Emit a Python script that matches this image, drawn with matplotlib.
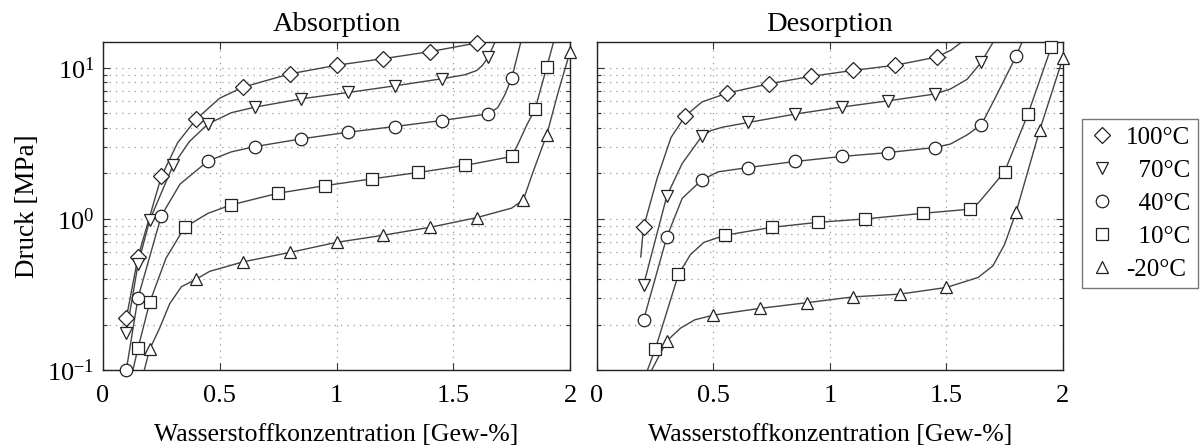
import numpy as np
import matplotlib
matplotlib.use("Agg")
import matplotlib.pyplot as plt
from matplotlib.ticker import LogLocator, NullFormatter

#----------------------------------------------------------------
# data (x = Gew-%, p = MPa)
#----------------------------------------------------------------
temps = ["100°C", "70°C", "40°C", "10°C", "-20°C"]
legend_labels = ["100°C", "  70°C", "  40°C", "  10°C", "-20°C"]
markers = ["D", "v", "o", "s", "^"]

# Absorption - measured points
abs_x_100 = [0.1, 0.15, 0.25, 0.4, 0.6, 0.8, 1.0, 1.2, 1.4, 1.6]
abs_p_100 = [0.22, 0.56, 1.91, 4.59, 7.45, 9.12, 10.4, 11.5, 12.8, 14.6]
abs_x_70 = [0.1, 0.15, 0.2, 0.3, 0.45, 0.65, 0.85, 1.05, 1.25, 1.45, 1.65]
abs_p_70 = [0.175, 0.50, 0.98, 2.26, 4.26, 5.49, 6.24, 6.87, 7.60, 8.46, 11.8]
abs_x_40 = [0.1, 0.15, 0.25, 0.45, 0.65, 0.85, 1.05, 1.25, 1.45, 1.65, 1.75]
abs_p_40 = [0.10, 0.30, 1.05, 2.42, 3.01, 3.39, 3.75, 4.09, 4.48, 4.96, 8.55]
abs_x_10 = [0.15, 0.2, 0.35, 0.55, 0.75, 0.95, 1.15, 1.35, 1.55, 1.75, 1.85, 1.9]
abs_p_10 = [0.139, 0.28, 0.88, 1.24, 1.48, 1.66, 1.84, 2.03, 2.26, 2.59, 5.33, 10.1]
abs_x_m20 = [0.2, 0.4, 0.6, 0.8, 1.0, 1.2, 1.4, 1.6, 1.8, 1.9, 2.0]
abs_p_m20 = [0.137, 0.40, 0.52, 0.60, 0.70, 0.78, 0.88, 1.02, 1.34, 3.6, 12.8]

# Absorption - fitted curves
abs_cx_100 = [0.1, 0.15, 0.25, 0.32, 0.4, 0.5, 0.6, 0.8, 1.0, 1.2, 1.4, 1.6, 1.63]
abs_cp_100 = [0.22, 0.56, 1.91, 3.2, 4.59, 6.3, 7.45, 9.12, 10.4, 11.5, 12.8, 14.6, 15.5]
abs_cx_70 = [0.1, 0.15, 0.2, 0.3, 0.37, 0.45, 0.55, 0.65, 0.85, 1.05, 1.25, 1.45,
             1.55, 1.6, 1.625, 1.65, 1.68]
abs_cp_70 = [0.175, 0.50, 0.98, 2.26, 3.25, 4.26, 5.05, 5.49, 6.24, 6.87, 7.60, 8.46,
             9.0, 9.6, 10.4, 11.8, 15.0]
abs_cx_40 = [0.1, 0.15, 0.25, 0.33, 0.45, 0.55, 0.65, 0.85, 1.05, 1.25, 1.45, 1.65,
             1.69, 1.72, 1.75, 1.79]
abs_cp_40 = [0.10, 0.30, 1.05, 1.7, 2.42, 2.78, 3.01, 3.39, 3.75, 4.09, 4.48, 4.96,
             5.45, 6.6, 8.55, 15.0]
abs_cx_10 = [0.128, 0.15, 0.2, 0.27, 0.35, 0.45, 0.55, 0.75, 0.95, 1.15, 1.35, 1.55,
             1.75, 1.78, 1.815, 1.85, 1.9, 1.93]
abs_cp_10 = [0.1, 0.139, 0.28, 0.55, 0.88, 1.09, 1.24, 1.48, 1.66, 1.84, 2.03, 2.26,
             2.59, 3.2, 4.2, 5.33, 10.1, 15.0]
abs_cx_m20 = [0.177, 0.2, 0.243, 0.286, 0.336, 0.4, 0.457, 0.6, 0.8, 1.0, 1.2, 1.4,
              1.6, 1.75, 1.8, 1.843, 1.9, 1.95, 2.0, 2.01]
abs_cp_m20 = [0.1, 0.137, 0.19, 0.275, 0.356, 0.40, 0.45, 0.52, 0.60, 0.70, 0.78, 0.88,
              1.02, 1.18, 1.34, 2.08, 3.6, 7.0, 12.8, 15.0]

# Desorption - measured points
des_x_100 = [0.2, 0.38, 0.56, 0.74, 0.92, 1.1, 1.28, 1.46]
des_p_100 = [0.88, 4.82, 6.81, 7.85, 8.79, 9.62, 10.4, 11.8]
des_x_70 = [0.2, 0.3, 0.45, 0.65, 0.85, 1.05, 1.25, 1.45, 1.65]
des_p_70 = [0.365, 1.42, 3.52, 4.35, 4.94, 5.50, 6.05, 6.71, 10.9]
des_x_40 = [0.2, 0.3, 0.45, 0.65, 0.85, 1.05, 1.25, 1.45, 1.65, 1.8]
des_p_40 = [0.214, 0.76, 1.81, 2.19, 2.40, 2.59, 2.75, 2.97, 4.20, 12.0]
des_x_10 = [0.25, 0.35, 0.55, 0.75, 0.95, 1.15, 1.4, 1.6, 1.75, 1.85, 1.95]
des_p_10 = [0.137, 0.43, 0.78, 0.88, 0.95, 1.0, 1.09, 1.16, 2.06, 4.94, 13.7]
des_x_m20 = [0.3, 0.5, 0.7, 0.9, 1.1, 1.3, 1.5, 1.8, 1.9, 2.0]
des_p_m20 = [0.156, 0.231, 0.256, 0.279, 0.305, 0.318, 0.352, 1.12, 3.85, 11.6]

# Desorption - fitted curves
des_cx_100 = [0.188, 0.2, 0.259, 0.318, 0.38, 0.451, 0.56, 0.74, 0.92, 1.1, 1.28, 1.46,
              1.52, 1.57]
des_cp_100 = [0.56, 0.88, 1.87, 3.46, 4.82, 5.95, 6.81, 7.85, 8.79, 9.62, 10.4, 11.8,
              13.1, 15.0]
des_cx_70 = [0.2, 0.3, 0.366, 0.45, 0.49, 0.54, 0.65, 0.85, 1.05, 1.25, 1.45, 1.517,
             1.589, 1.65, 1.703]
des_cp_70 = [0.365, 1.42, 2.33, 3.52, 3.85, 4.05, 4.35, 4.94, 5.50, 6.05, 6.71, 7.24,
             8.4, 10.9, 15.0]
des_cx_40 = [0.2, 0.3, 0.366, 0.45, 0.52, 0.65, 0.85, 1.05, 1.25, 1.45, 1.517, 1.589,
             1.65, 1.71, 1.8, 1.826]
des_cp_40 = [0.214, 0.76, 1.37, 1.81, 2.05, 2.19, 2.40, 2.59, 2.75, 2.97, 3.13, 3.6,
             4.2, 6.35, 12.0, 15.0]
des_cx_10 = [0.217, 0.25, 0.35, 0.401, 0.459, 0.55, 0.75, 0.95, 1.15, 1.4, 1.6, 1.636,
             1.679, 1.75, 1.85, 1.95, 1.96]
des_cp_10 = [0.1, 0.137, 0.43, 0.58, 0.70, 0.78, 0.88, 0.95, 1.0, 1.09, 1.16, 1.27,
             1.52, 2.06, 4.94, 13.7, 15.5]
des_cx_m20 = [0.235, 0.3, 0.36, 0.42, 0.5, 0.7, 0.9, 1.1, 1.3, 1.5, 1.636, 1.70, 1.75,
              1.8, 1.9, 2.0, 2.01]
des_cp_m20 = [0.1, 0.156, 0.19, 0.215, 0.231, 0.256, 0.279, 0.305, 0.318, 0.352, 0.41,
              0.49, 0.68, 1.12, 3.85, 11.6, 13.5]

abs_points = [(abs_x_100, abs_p_100), (abs_x_70, abs_p_70), (abs_x_40, abs_p_40),
              (abs_x_10, abs_p_10), (abs_x_m20, abs_p_m20)]
abs_curves = [(abs_cx_100, abs_cp_100), (abs_cx_70, abs_cp_70), (abs_cx_40, abs_cp_40),
              (abs_cx_10, abs_cp_10), (abs_cx_m20, abs_cp_m20)]
des_points = [(des_x_100, des_p_100), (des_x_70, des_p_70), (des_x_40, des_p_40),
              (des_x_10, des_p_10), (des_x_m20, des_p_m20)]
des_curves = [(des_cx_100, des_cp_100), (des_cx_70, des_cp_70), (des_cx_40, des_cp_40),
              (des_cx_10, des_cp_10), (des_cx_m20, des_cp_m20)]

x_ticks = [0, 0.5, 1, 1.5, 2]
x_tick_labels = ["0", "0.5", "1", "1.5", "2"]

#----------------------------------------------------------------
# style
#----------------------------------------------------------------
plt.rcParams['font.family'] = ['Liberation Serif', 'DejaVu Serif']
plt.rcParams['mathtext.fontset'] = 'custom'
plt.rcParams['mathtext.rm'] = 'Liberation Serif'
plt.rcParams['mathtext.it'] = 'Liberation Serif:italic'
plt.rcParams['mathtext.default'] = 'regular'

FS_TICK = 19
FS_XLAB = 18.5
FS_YLAB = 19.5
FS_TITLE = 20.5
FS_LEG = 18
line_col = '#444444'
grid_col = '#9a9a9a'
msize = {"D": 8, "v": 9, "o": 9, "s": 8, "^": 9}

fig = plt.figure(figsize=(12.04, 4.48), dpi=100)
ax1 = fig.add_axes([0.0855, 0.174, 0.388, 0.732])
ax2 = fig.add_axes([0.4958, 0.174, 0.387, 0.732])


def setup(ax, title, show_y):
    ax.set_yscale('log')
    ax.set_xlim(0, 2)
    ax.set_ylim(0.1, 14.8)
    ax.set_xticks(x_ticks, labels=x_tick_labels)
    ax.yaxis.set_major_locator(LogLocator(base=10))
    ax.yaxis.set_minor_locator(LogLocator(base=10, subs=np.arange(2, 10)))
    ax.yaxis.set_minor_formatter(NullFormatter())
    ax.tick_params(which='both', direction='in', top=True, right=True,
                   labelsize=FS_TICK, width=0.8, color='#333333')
    ax.tick_params(which='major', length=5, pad=11)
    ax.tick_params(axis='y', which='major', pad=6)
    ax.tick_params(which='minor', length=3)
    ax.grid(True, axis='x', which='major', linestyle=(0, (1, 4)), color=grid_col, lw=0.9)
    ax.grid(True, axis='y', which='both', linestyle=(0, (1, 4)), color=grid_col, lw=0.9)
    ax.set_title(title, fontsize=FS_TITLE, pad=8)
    ax.set_xlabel("Wasserstoffkonzentration [Gew-%]", fontsize=FS_XLAB, labelpad=12)
    if show_y:
        ax.set_ylabel("Druck [MPa]", fontsize=FS_YLAB, labelpad=5)
    else:
        ax.tick_params(axis='y', which='both', labelleft=False)
    for s in ax.spines.values():
        s.set_linewidth(1.0)
        s.set_color('#222222')


def draw(ax, points, curves):
    handles = []
    for (px, pp), (cx, cp), m in zip(points, curves, markers):
        ax.plot(cx, cp, '-', color=line_col, lw=1.0, zorder=2)
        h, = ax.plot(px, pp, linestyle='none', marker=m, ms=msize[m],
                     mfc='white', mec='#222222', mew=0.9, zorder=3, clip_on=False)
        handles.append(h)
    return handles


setup(ax1, "Absorption", True)
setup(ax2, "Desorption", False)
handles = draw(ax1, abs_points, abs_curves)
draw(ax2, des_points, des_curves)

leg = fig.legend(handles, legend_labels, loc='upper left',
                 bbox_to_anchor=(1082 / 1204, 1 - 119 / 448),
                 fontsize=FS_LEG, frameon=True, fancybox=False, handlelength=1.0,
                 handletextpad=0.45, borderpad=0.3, labelspacing=0.42,
                 borderaxespad=0)
leg.get_frame().set_edgecolor('#555555')
leg.get_frame().set_linewidth(1.0)

fig.savefig("out.png", dpi=100)
